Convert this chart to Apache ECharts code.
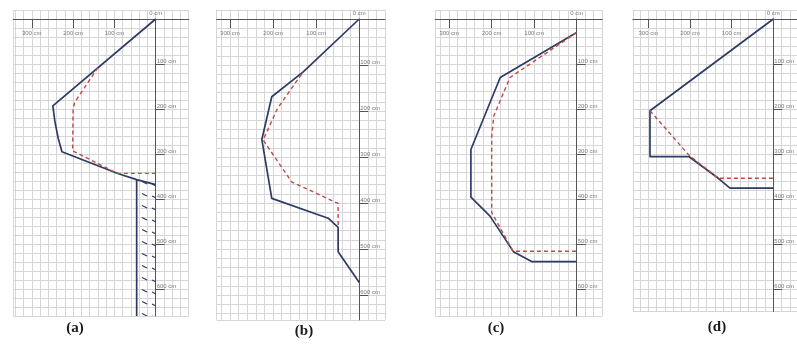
<!DOCTYPE html>
<html><head><meta charset="utf-8">
<script src="https://cdn.jsdelivr.net/npm/echarts@6/dist/echarts.min.js"></script>
<style>html,body{margin:0;padding:0;background:#fff}#c{width:797px;height:344px}</style>
</head><body><div id="c"></div>
<script>
// ---- data (cm: horizontal distance, depth) ----
const panelLabels = ['(a)', '(b)', '(c)', '(d)'];
const xTickValues = [100, 200, 300];
const yTickValues = [100, 200, 300, 400, 500, 600];

const solidA  = [[0,0],[249,193],[244,228],[236,265],[227,295],[90,344],[46,357],[0,368]];
const dashedA = [[140,108],[196,185],[200,200],[201,293],[93,343],[0,343]];
const wallA   = [[46,357],[46,660]];
const hatchA  = [[46,357],[0,368],[0,660],[46,660]];

const solidB  = [[0,0],[130,115],[203,169],[226,262],[203,390],[72,433],[49,453],[49,506],[0,573]];
const dashedB = [[134,120],[190,195],[223,263],[157,354],[49,401],[49,452]];

const solidC  = [[0,30],[180,130],[249,290],[249,396],[204,438],[149,517],[106,539],[0,539]];
const dashedC = [[0,30],[157,130],[195,215],[200,260],[200,430],[150,516],[0,516]];

const solidD  = [[0,0],[296,204],[296,306],[202,306],[132,354],[104,376],[0,376]];
const dashedD = [[296,204],[202,303],[132,354],[0,354]];

// ---- layout ----
const layouts = [
  {left:13.2,  width:175.5, top0:19, sy:0.45, xMin:-80, xMax:345, yMax:660, lx:75,  ly:328},
  {left:216.6, width:168.5, top0:19, sy:0.46, xMin:-60, xMax:331, yMax:654, lx:304, ly:331},
  {left:435.2, width:167,   top0:19, sy:0.45, xMin:-60, xMax:333, yMax:660, lx:496, ly:328},
  {left:632.9, width:165.4, top0:19, sy:0.45, xMin:-60, xMax:337, yMax:650, lx:717, ly:327}
];
const panelSeries = [
  {solid: solidA, dashed: dashedA},
  {solid: solidB, dashed: dashedB},
  {solid: solidC, dashed: dashedC},
  {solid: solidD, dashed: dashedD}
];

const SOLID = '#2d3b66', DASH = '#bf4a45', GRIDC = '#d6d6d6', AXISC = '#555', LABC = '#7a7a7a';

// hatch pattern
const pat = document.createElement('canvas');
pat.width = 20; pat.height = 12;
(function(){
  const g = pat.getContext('2d');
  g.strokeStyle = SOLID; g.lineWidth = 1.2;
  g.beginPath(); g.moveTo(2,1.5); g.lineTo(7,4); g.stroke();
  g.beginPath(); g.moveTo(12,4); g.lineTo(17,6.5); g.stroke();
})();

const grids = [], xAxes = [], yAxes = [], series = [], graphics = [];
layouts.forEach((L, i) => {
  grids.push({left:L.left, width:L.width, top:L.top0 - 20*L.sy, height:(L.yMax+20)*L.sy, outerBoundsMode:'none', containLabel:false});
  grids.push({left:L.left, width:L.width, top:L.top0, height:L.yMax*L.sy, outerBoundsMode:'none', containLabel:false});
  const g1 = 2*i, g2 = 2*i+1;
  const zeroShift = -L.xMin * L.width / (L.xMax - L.xMin);
  // grid-line axes
  xAxes.push({type:'value', gridIndex:g1, inverse:true, min:L.xMin, max:L.xMax, interval:20, position:'top',
    axisLine:{show:false}, axisTick:{show:false}, axisLabel:{show:false},
    splitLine:{show:true, lineStyle:{color:GRIDC, width:1}}});
  yAxes.push({type:'value', gridIndex:g1, inverse:true, min:-20, max:L.yMax, interval:20, position:'left',
    axisLine:{show:false}, axisTick:{show:false}, axisLabel:{show:false},
    splitLine:{show:true, lineStyle:{color:GRIDC, width:1}}});
  // main x axis (ticks + labels below line)
  const xm = xAxes.length;
  xAxes.push({type:'value', gridIndex:g2, inverse:true, min:L.xMin, max:L.xMax, position:'top',
    axisLine:{show:true, onZero:false, lineStyle:{color:AXISC, width:1}},
    axisTick:{show:true, inside:true, length:9, customValues:xTickValues, lineStyle:{color:AXISC}},
    axisLabel:{show:true, inside:true, margin:11, customValues:xTickValues, formatter:v => v + ' cm',
      fontSize:6, color:LABC, fontFamily:'Liberation Sans'},
    splitLine:{show:false}});
  // "0 cm" label above the line
  xAxes.push({type:'value', gridIndex:g2, inverse:true, min:L.xMin, max:L.xMax, position:'top',
    axisLine:{show:false, onZero:false}, axisTick:{show:false},
    axisLabel:{show:true, margin:3, customValues:[0], formatter:v => v + ' cm',
      fontSize:6, color:LABC, fontFamily:'Liberation Sans'},
    splitLine:{show:false}});
  // main y axis at x = 0, labels to the right
  const ym = yAxes.length;
  yAxes.push({type:'value', gridIndex:g2, inverse:true, min:0, max:L.yMax, position:'right', offset:-zeroShift,
    axisLine:{show:true, onZero:false, lineStyle:{color:AXISC, width:1}},
    axisTick:{show:true, inside:false, length:9, customValues:yTickValues, lineStyle:{color:AXISC}},
    axisLabel:{show:true, margin:1, customValues:yTickValues, formatter:v => v + ' cm', verticalAlign:'bottom',
      fontSize:6, color:LABC, fontFamily:'Liberation Sans'},
    splitLine:{show:false}});
  const P = panelSeries[i];
  if (i === 0) {
    series.push({type:'custom', xAxisIndex:xm, yAxisIndex:ym, data:hatchA, silent:true,
      renderItem:(params, api) => {
        if (params.dataIndex !== 0) return null;
        return {type:'polygon', shape:{points: hatchA.map(p => api.coord(p))},
          style:{fill:{image:pat, repeat:'repeat'}, stroke:null}};
      }});
    series.push({type:'line', xAxisIndex:xm, yAxisIndex:ym, data:wallA, symbol:'none',
      lineStyle:{color:SOLID, width:1.7}});
  }
  series.push({type:'line', xAxisIndex:xm, yAxisIndex:ym, data:P.solid, symbol:'none',
    lineStyle:{color:SOLID, width:1.7}});
  series.push({type:'line', xAxisIndex:xm, yAxisIndex:ym, data:P.dashed, symbol:'none',
    lineStyle:{color:DASH, width:1.4, type:[4,3]}});
  graphics.push({type:'text', x:L.lx, y:L.ly, style:{text:panelLabels[i], fill:'#1a1a1a',
    font:'bold 15px "Liberation Serif"', align:'center', verticalAlign:'middle'}});
});

const chart = echarts.init(document.getElementById('c'), null, {renderer:'canvas'});
chart.setOption({
  animation:false,
  backgroundColor:'#ffffff',
  grid:grids, xAxis:xAxes, yAxis:yAxes, series:series, graphic:graphics
});
</script></body></html>
